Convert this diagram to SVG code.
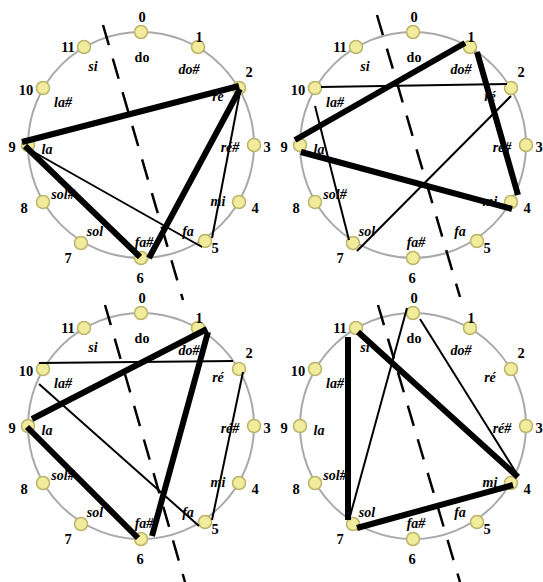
<svg xmlns="http://www.w3.org/2000/svg" width="543" height="582" viewBox="0 0 543 582">
<style>
.ring{fill:none;stroke:#a9a9a9;stroke-width:2}
.pt{fill:#f1eb9c;stroke:#bcb46a;stroke-width:1.5}
.num{font-family:"Liberation Serif",serif;font-weight:bold;font-size:14.5px;text-anchor:middle;fill:#000}
.note{font-family:"Liberation Serif",serif;font-weight:bold;font-style:italic;font-size:14px;text-anchor:middle;fill:#000}
.up{font-style:normal}
.thick{stroke:#000;stroke-width:6;stroke-linecap:butt}
.thin{stroke:#000;stroke-width:2}
.axis{stroke:#000;stroke-width:2.5;stroke-dasharray:21 14}
</style>
<g id="tl" transform="translate(141,145)">
<circle class="ring" r="113"/>
<g id="tl-n0"><circle class="pt" cx="0" cy="-113" r="6.5"/><text class="num" x="1" y="-123">0</text><text class="note up" x="1" y="-83">do</text></g>
<g id="tl-n1"><circle class="pt" cx="57" cy="-98" r="6.5"/><text class="num" x="58" y="-103">1</text><text class="note" x="48" y="-71">do#</text></g>
<g id="tl-n2"><circle class="pt" cx="98" cy="-57" r="6.5"/><text class="num" x="108" y="-68">2</text><text class="note" x="77" y="-44">ré</text></g>
<g id="tl-n3"><circle class="pt" cx="113" cy="0" r="6.5"/><text class="num" x="126" y="7">3</text><text class="note" x="89" y="7">ré#</text></g>
<g id="tl-n4"><circle class="pt" cx="98" cy="57" r="6.5"/><text class="num" x="114" y="68">4</text><text class="note" x="77" y="61">mi</text></g>
<g id="tl-n5"><circle class="pt" cx="64" cy="96" r="6.5"/><text class="num" x="74" y="108">5</text><text class="note" x="47" y="91">fa</text></g>
<g id="tl-n6"><circle class="pt" cx="0" cy="113" r="6.5"/><text class="num" x="-1" y="138">6</text><text class="note" x="3" y="102">fa#</text></g>
<g id="tl-n7"><circle class="pt" cx="-60" cy="98" r="6.5"/><text class="num" x="-73" y="118">7</text><text class="note" x="-46" y="91">sol</text></g>
<g id="tl-n8"><circle class="pt" cx="-98" cy="57" r="6.5"/><text class="num" x="-117" y="68">8</text><text class="note" x="-78" y="54">sol#</text></g>
<g id="tl-n9"><circle class="pt" cx="-113" cy="0" r="6.5"/><text class="num" x="-129" y="7">9</text><text class="note" x="-94" y="9">la</text></g>
<g id="tl-n10"><circle class="pt" cx="-98" cy="-57" r="6.5"/><text class="num" x="-115" y="-50">10</text><text class="note" x="-78" y="-38">la#</text></g>
<g id="tl-n11"><circle class="pt" cx="-57" cy="-98" r="6.5"/><text class="num" x="-73" y="-93">11</text><text class="note" x="-48" y="-74">si</text></g>
</g>
<g id="tr" transform="translate(413,145)">
<circle class="ring" r="113"/>
<g id="tr-n0"><circle class="pt" cx="0" cy="-113" r="6.5"/><text class="num" x="1" y="-123">0</text><text class="note up" x="1" y="-83">do</text></g>
<g id="tr-n1"><circle class="pt" cx="57" cy="-98" r="6.5"/><text class="num" x="58" y="-103">1</text><text class="note" x="48" y="-71">do#</text></g>
<g id="tr-n2"><circle class="pt" cx="98" cy="-57" r="6.5"/><text class="num" x="108" y="-68">2</text><text class="note" x="77" y="-44">ré</text></g>
<g id="tr-n3"><circle class="pt" cx="113" cy="0" r="6.5"/><text class="num" x="126" y="7">3</text><text class="note" x="89" y="7">ré#</text></g>
<g id="tr-n4"><circle class="pt" cx="98" cy="57" r="6.5"/><text class="num" x="114" y="68">4</text><text class="note" x="77" y="61">mi</text></g>
<g id="tr-n5"><circle class="pt" cx="64" cy="96" r="6.5"/><text class="num" x="74" y="108">5</text><text class="note" x="47" y="91">fa</text></g>
<g id="tr-n6"><circle class="pt" cx="0" cy="113" r="6.5"/><text class="num" x="-1" y="138">6</text><text class="note" x="3" y="102">fa#</text></g>
<g id="tr-n7"><circle class="pt" cx="-60" cy="98" r="6.5"/><text class="num" x="-73" y="118">7</text><text class="note" x="-46" y="91">sol</text></g>
<g id="tr-n8"><circle class="pt" cx="-98" cy="57" r="6.5"/><text class="num" x="-117" y="68">8</text><text class="note" x="-78" y="54">sol#</text></g>
<g id="tr-n9"><circle class="pt" cx="-113" cy="0" r="6.5"/><text class="num" x="-129" y="7">9</text><text class="note" x="-94" y="9">la</text></g>
<g id="tr-n10"><circle class="pt" cx="-98" cy="-57" r="6.5"/><text class="num" x="-115" y="-50">10</text><text class="note" x="-78" y="-38">la#</text></g>
<g id="tr-n11"><circle class="pt" cx="-57" cy="-98" r="6.5"/><text class="num" x="-73" y="-93">11</text><text class="note" x="-48" y="-74">si</text></g>
</g>
<g id="bl" transform="translate(141,426)">
<circle class="ring" r="113"/>
<g id="bl-n0"><circle class="pt" cx="0" cy="-113" r="6.5"/><text class="num" x="1" y="-123">0</text><text class="note up" x="1" y="-83">do</text></g>
<g id="bl-n1"><circle class="pt" cx="57" cy="-98" r="6.5"/><text class="num" x="58" y="-103">1</text><text class="note" x="48" y="-71">do#</text></g>
<g id="bl-n2"><circle class="pt" cx="98" cy="-57" r="6.5"/><text class="num" x="108" y="-68">2</text><text class="note" x="77" y="-44">ré</text></g>
<g id="bl-n3"><circle class="pt" cx="113" cy="0" r="6.5"/><text class="num" x="126" y="7">3</text><text class="note" x="89" y="7">ré#</text></g>
<g id="bl-n4"><circle class="pt" cx="98" cy="57" r="6.5"/><text class="num" x="114" y="68">4</text><text class="note" x="77" y="61">mi</text></g>
<g id="bl-n5"><circle class="pt" cx="64" cy="96" r="6.5"/><text class="num" x="74" y="108">5</text><text class="note" x="47" y="91">fa</text></g>
<g id="bl-n6"><circle class="pt" cx="0" cy="113" r="6.5"/><text class="num" x="-1" y="138">6</text><text class="note" x="3" y="102">fa#</text></g>
<g id="bl-n7"><circle class="pt" cx="-60" cy="98" r="6.5"/><text class="num" x="-73" y="118">7</text><text class="note" x="-46" y="91">sol</text></g>
<g id="bl-n8"><circle class="pt" cx="-98" cy="57" r="6.5"/><text class="num" x="-117" y="68">8</text><text class="note" x="-78" y="54">sol#</text></g>
<g id="bl-n9"><circle class="pt" cx="-113" cy="0" r="6.5"/><text class="num" x="-129" y="7">9</text><text class="note" x="-94" y="9">la</text></g>
<g id="bl-n10"><circle class="pt" cx="-98" cy="-57" r="6.5"/><text class="num" x="-115" y="-50">10</text><text class="note" x="-78" y="-38">la#</text></g>
<g id="bl-n11"><circle class="pt" cx="-57" cy="-98" r="6.5"/><text class="num" x="-73" y="-93">11</text><text class="note" x="-48" y="-74">si</text></g>
</g>
<g id="br" transform="translate(413,426)">
<circle class="ring" r="113"/>
<g id="br-n0"><circle class="pt" cx="0" cy="-113" r="6.5"/><text class="num" x="1" y="-123">0</text><text class="note up" x="1" y="-83">do</text></g>
<g id="br-n1"><circle class="pt" cx="57" cy="-98" r="6.5"/><text class="num" x="58" y="-103">1</text><text class="note" x="48" y="-71">do#</text></g>
<g id="br-n2"><circle class="pt" cx="98" cy="-57" r="6.5"/><text class="num" x="108" y="-68">2</text><text class="note" x="77" y="-44">ré</text></g>
<g id="br-n3"><circle class="pt" cx="113" cy="0" r="6.5"/><text class="num" x="126" y="7">3</text><text class="note" x="89" y="7">ré#</text></g>
<g id="br-n4"><circle class="pt" cx="98" cy="57" r="6.5"/><text class="num" x="114" y="68">4</text><text class="note" x="77" y="61">mi</text></g>
<g id="br-n5"><circle class="pt" cx="64" cy="96" r="6.5"/><text class="num" x="74" y="108">5</text><text class="note" x="47" y="91">fa</text></g>
<g id="br-n6"><circle class="pt" cx="0" cy="113" r="6.5"/><text class="num" x="-1" y="138">6</text><text class="note" x="3" y="102">fa#</text></g>
<g id="br-n7"><circle class="pt" cx="-60" cy="98" r="6.5"/><text class="num" x="-73" y="118">7</text><text class="note" x="-46" y="91">sol</text></g>
<g id="br-n8"><circle class="pt" cx="-98" cy="57" r="6.5"/><text class="num" x="-117" y="68">8</text><text class="note" x="-78" y="54">sol#</text></g>
<g id="br-n9"><circle class="pt" cx="-113" cy="0" r="6.5"/><text class="num" x="-129" y="7">9</text><text class="note" x="-94" y="9">la</text></g>
<g id="br-n10"><circle class="pt" cx="-98" cy="-57" r="6.5"/><text class="num" x="-115" y="-50">10</text><text class="note" x="-78" y="-38">la#</text></g>
<g id="br-n11"><circle class="pt" cx="-57" cy="-98" r="6.5"/><text class="num" x="-73" y="-93">11</text><text class="note" x="-48" y="-74">si</text></g>
</g>
<g id="connectors">
<line class="thick" x1="239" y1="86" x2="22" y2="142"/>
<line class="thick" x1="240" y1="89" x2="149" y2="258"/>
<line class="thick" x1="25" y1="146" x2="140" y2="257"/>
<line class="thin" x1="240" y1="92" x2="212" y2="238"/>
<line class="thin" x1="25" y1="147" x2="202" y2="247"/>
<line class="thick" x1="465" y1="43" x2="295" y2="140"/>
<line class="thick" x1="477" y1="52" x2="518" y2="195"/>
<line class="thick" x1="301" y1="152" x2="512" y2="209"/>
<line class="thin" x1="321" y1="87" x2="507" y2="84"/>
<line class="thin" x1="511" y1="96" x2="357" y2="251"/>
<line class="thin" x1="315" y1="106" x2="349" y2="240"/>
<line class="thick" x1="207" y1="329" x2="32" y2="419"/>
<line class="thick" x1="208" y1="332" x2="152" y2="536"/>
<line class="thick" x1="27" y1="427" x2="138" y2="538"/>
<line class="thin" x1="39" y1="363" x2="233" y2="361"/>
<line class="thin" x1="243" y1="372" x2="212" y2="520"/>
<line class="thin" x1="39" y1="384" x2="199" y2="526"/>
<line class="thick" x1="358" y1="332" x2="518" y2="477"/>
<line class="thick" x1="348" y1="337" x2="348" y2="520"/>
<line class="thick" x1="357" y1="528" x2="513" y2="485"/>
<line class="thin" x1="407" y1="308" x2="349" y2="520"/>
<line class="thin" x1="420" y1="319" x2="517" y2="474"/>
<line class="axis" x1="103" y1="25" x2="183" y2="300"/>
<line class="axis" x1="377" y1="15" x2="460" y2="297"/>
<line class="axis" x1="105" y1="305" x2="185" y2="582"/>
<line class="axis" x1="378" y1="305" x2="460" y2="582"/>
</g>
</svg>
